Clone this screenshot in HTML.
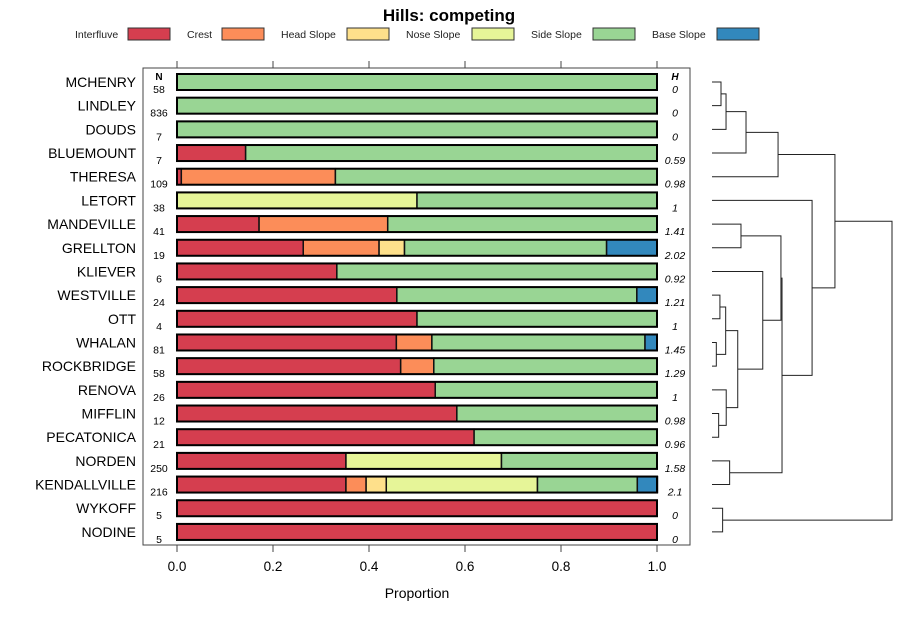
<!DOCTYPE html>
<html><head><meta charset="utf-8"><style>
body{margin:0;background:#fff}
svg{display:block;font-family:"Liberation Sans",sans-serif}
</style></head><body>
<svg id="chart" width="900" height="620" viewBox="0 0 900 620" xmlns="http://www.w3.org/2000/svg">
<text x="449" y="21" text-anchor="middle" font-size="17" font-weight="bold">Hills: competing</text>
<g id="legend"></g>
<rect x="143" y="68" width="547" height="477" fill="none" stroke="#444" stroke-width="1"/>
<g id="axes"></g>
<g id="bars"></g>
<g id="dendro"></g>
<text x="417" y="598" text-anchor="middle" font-size="14">Proportion</text>
</svg>
<script>
const categories = ["MCHENRY","LINDLEY","DOUDS","BLUEMOUNT","THERESA","LETORT","MANDEVILLE","GRELLTON","KLIEVER","WESTVILLE","OTT","WHALAN","ROCKBRIDGE","RENOVA","MIFFLIN","PECATONICA","NORDEN","KENDALLVILLE","WYKOFF","NODINE"];
const counts = [58,836,7,7,109,38,41,19,6,24,4,81,58,26,12,21,250,216,5,5];
const entropyLabels = ["0","0","0","0.59","0.98","1","1.41","2.02","0.92","1.21","1","1.45","1.29","1","0.98","0.96","1.58","2.1","0","0"];
const seriesNames = ["Interfluve","Crest","Head Slope","Nose Slope","Side Slope","Base Slope"];
const seriesColors = ["#D53E4F","#FC8D59","#FEE08B","#E6F598","#99D594","#3288BD"];
const interfluve = [0,0,0,0.143,0.009,0,0.171,0.263,0.333,0.458,0.5,0.457,0.466,0.538,0.583,0.619,0.352,0.352,1,1];
const crest      = [0,0,0,0,0.321,0,0.268,0.158,0,0,0,0.074,0.069,0,0,0,0,0.042,0,0];
const headSlope  = [0,0,0,0,0,0,0,0.053,0,0,0,0,0,0,0,0,0,0.042,0,0];
const noseSlope  = [0,0,0,0,0,0.5,0,0,0,0,0,0,0,0,0,0,0.324,0.315,0,0];
const sideSlope  = [1,1,1,0.857,0.670,0.5,0.561,0.421,0.667,0.5,0.5,0.444,0.465,0.462,0.417,0.381,0.324,0.208,0,0];
const baseSlope  = [0,0,0,0,0,0,0,0.105,0,0.042,0,0.025,0,0,0,0,0,0.042,0,0];
const xTicks = [0,0.2,0.4,0.6,0.8,1.0];
const xTickLabels = ["0.0","0.2","0.4","0.6","0.8","1.0"];
// dendrogram merges: [a, b, height]; leaves as "L<i>", merges as "M<i>"
const merges = [
 ["L0","L1",0.05],["M0","L2",0.078],["M1","L3",0.189],["M2","L4",0.367],
 ["L6","L7",0.161],["L9","L10",0.044],["L11","L12",0.024],["M5","M6",0.076],
 ["L14","L15",0.037],["L13","M8",0.079],["M7","M9",0.143],["L8","M10",0.282],
 ["M4","M11",0.383],["L16","L17",0.098],["M12","M13",0.389],["L5","M14",0.556],
 ["M3","M15",0.683],["L18","L19",0.059],["M16","M17",1.0]
];
const NS="http://www.w3.org/2000/svg";
const x0=177,x1=657;
const xScale=v=>x0+v*(x1-x0);
const yScale=i=>82+i*23.68;
const dScale=h=>712+h*180;
function mk(tag,attrs,parent,text){const e=document.createElementNS(NS,tag);for(const k in attrs)e.setAttribute(k,attrs[k]);if(text!==undefined)e.textContent=text;parent.appendChild(e);return e;}
// legend
const leg=document.getElementById('legend');
const legTextX=[75,187,281,406,531,652], legBoxX=[128,222,347,472,593,717];
seriesNames.forEach((n,i)=>{
  const t=mk('text',{x:legTextX[i],y:38,'font-size':10.5,fill:'#222'},leg,n);
  
  
  const r=mk('rect',{x:legBoxX[i],y:28,width:42,height:12,fill:seriesColors[i],stroke:'#333','stroke-width':1},leg);
  
  
});
// axes
const ax=document.getElementById('axes');
xTicks.forEach((v,i)=>{
  const x=xScale(v);
  const a=mk('line',{x1:x,x2:x,y1:61,y2:68,stroke:'#444'},ax);
  
  
  const b=mk('line',{x1:x,x2:x,y1:545,y2:552,stroke:'#444'},ax);
  
  
  const t=mk('text',{x:x,y:571,'text-anchor':'middle','font-size':13.5},ax,xTickLabels[i]);
  
  
});
const nh=mk('text',{x:159,y:80,'text-anchor':'middle','font-size':10,'font-weight':'bold'},ax,'N');


const hh=mk('text',{x:675,y:80,'text-anchor':'middle','font-size':10,'font-weight':'bold','font-style':'italic'},ax,'H');


// bars
const bars=document.getElementById('bars');
const series=[interfluve,crest,headSlope,noseSlope,sideSlope,baseSlope];
categories.forEach((c,i)=>{
  const y=yScale(i);
  const lab=mk('text',{x:136,y:y+5,'text-anchor':'end','font-size':14},bars,c);
  
  
  const n=mk('text',{x:159,y:y+11,'text-anchor':'middle','font-size':10.5},bars,String(counts[i]));
  
  
  const h=mk('text',{x:675,y:y+11,'text-anchor':'middle','font-size':10.5,'font-style':'italic'},bars,entropyLabels[i]);
  
  
  let cum=0;
  series.forEach((s,k)=>{
    const v=s[i]; if(v<=0) return;
    const r=mk('rect',{x:xScale(cum),y:y-8,width:xScale(cum+v)-xScale(cum),height:16,fill:seriesColors[k],stroke:'#111','stroke-width':1.5},bars);
    
    
    cum+=v;
  });
  const o=mk('rect',{x:x0,y:y-8,width:x1-x0,height:16,fill:'none',stroke:'#000','stroke-width':2},bars);
  
  
});
// dendrogram
const dg=document.getElementById('dendro');
const pos={};
categories.forEach((c,i)=>{pos['L'+i]={x:dScale(0),y:yScale(i)};});
merges.forEach((m,i)=>{
  const a=pos[m[0]],b=pos[m[1]],x=dScale(m[2]);
  const p=mk('path',{d:`M${a.x},${a.y}H${x}V${b.y}H${b.x}`,fill:'none',stroke:'#222','stroke-width':1},dg);
  
  
  pos['M'+i]={x:x,y:(a.y+b.y)/2};
});
</script>
</body></html>
